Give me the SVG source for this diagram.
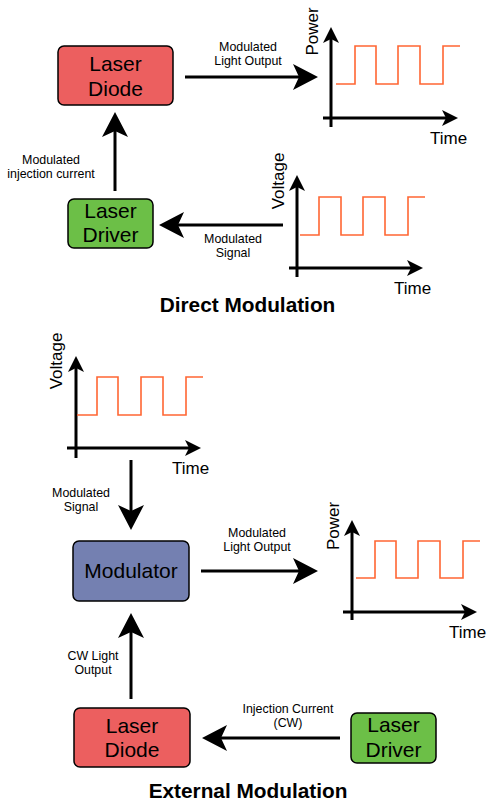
<svg xmlns="http://www.w3.org/2000/svg" width="500" height="807" viewBox="0 0 500 807">
<style>
.box{stroke:#000;stroke-width:1.5}
.bt{font-family:"Liberation Sans",Arial,sans-serif;font-size:21px;fill:#000;text-anchor:middle}
.lb{font-family:"Liberation Sans",Arial,sans-serif;font-size:12.4px;fill:#000;text-anchor:middle}
.ax{font-family:"Liberation Sans",Arial,sans-serif;font-size:17px;fill:#000}
.ttl{font-family:"Liberation Sans",Arial,sans-serif;font-size:20.8px;font-weight:bold;fill:#000;text-anchor:middle}
.con{stroke:#000;stroke-width:3;fill:none;marker-end:url(#ah)}
.axis{stroke:#000;stroke-width:3;fill:none}
.axa{marker-end:url(#axh)}
.wave{stroke:#FF6633;stroke-width:1.6;fill:none}
</style>
<defs>
<marker id="ah" markerUnits="userSpaceOnUse" markerWidth="26" markerHeight="28" viewBox="0 0 26 28" refX="6" refY="14" orient="auto">
<path d="M25,14 L0,1 L6,14 L0,27 Z" fill="#000"/>
</marker>
<marker id="axh" markerUnits="userSpaceOnUse" markerWidth="17" markerHeight="18" viewBox="0 0 17 18" refX="4" refY="9" orient="auto">
<path d="M16,9 L0,1 L4,9 L0,17 Z" fill="#000"/>
</marker>
</defs>
<rect width="500" height="807" fill="#fff"/>

<g id="connectors">
<line class="con" x1="185" y1="77" x2="299" y2="77"/>
<line class="con" x1="115" y1="191" x2="115" y2="131"/>
<line class="con" x1="283" y1="225" x2="178" y2="225"/>
<line class="con" x1="131" y1="460" x2="131" y2="511"/>
<line class="con" x1="201" y1="571" x2="299" y2="571"/>
<line class="con" x1="131" y1="699" x2="131" y2="632"/>
<line class="con" x1="340" y1="738" x2="221" y2="738"/>
</g>

<g id="conn-labels">
<text class="lb" x="248" y="51">Modulated</text>
<text class="lb" x="248" y="65">Light Output</text>
<text class="lb" x="51" y="164">Modulated</text>
<text class="lb" x="51" y="178">injection current</text>
<text class="lb" x="233" y="243">Modulated</text>
<text class="lb" x="233" y="257">Signal</text>
<text class="lb" x="81" y="497">Modulated</text>
<text class="lb" x="81" y="511">Signal</text>
<text class="lb" x="257" y="537">Modulated</text>
<text class="lb" x="257" y="551">Light Output</text>
<text class="lb" x="93" y="660">CW Light</text>
<text class="lb" x="93" y="674">Output</text>
<text class="lb" x="288" y="713">Injection Current</text>
<text class="lb" x="288" y="727">(CW)</text>
</g>

<g id="laser-diode-1">
<rect class="box" x="58" y="46" width="115" height="59" rx="6" fill="#EC5F5F"/>
<text class="bt" x="115.5" y="71">Laser</text>
<text class="bt" x="115.5" y="96">Diode</text>
</g>
<g id="laser-driver-1">
<rect class="box" x="68" y="199" width="85" height="49" rx="6" fill="#6CBF47"/>
<text class="bt" x="110.5" y="218">Laser</text>
<text class="bt" x="110.5" y="242">Driver</text>
</g>

<g id="graph-power-1">
<line class="axis axa" x1="331" y1="127" x2="331" y2="39"/>
<line class="axis axa" x1="323" y1="118" x2="446" y2="118"/>
<path class="wave" d="M336,84 H355 V46 H376 V84 H398 V46 H420 V84 H443 V46 H460"/>
<text class="ax" text-anchor="middle" transform="translate(318,31.5) rotate(-90)">Power</text>
<text class="ax" x="430" y="144">Time</text>
</g>

<g id="graph-voltage-1">
<line class="axis axa" x1="297" y1="277" x2="297" y2="187"/>
<line class="axis axa" x1="289" y1="268" x2="411" y2="268"/>
<path class="wave" d="M300,235 H319 V197 H341 V235 H363 V197 H385 V235 H408 V197 H425"/>
<text class="ax" text-anchor="middle" transform="translate(284,181) rotate(-90)">Voltage</text>
<text class="ax" x="394" y="294">Time</text>
</g>

<g id="title-direct">
<text class="ttl" x="247.5" y="312">Direct Modulation</text>
</g>

<g id="graph-voltage-2">
<line class="axis axa" x1="76" y1="458" x2="76" y2="368"/>
<line class="axis axa" x1="67" y1="448" x2="189" y2="448"/>
<path class="wave" d="M77,415 H97 V377 H118 V415 H141 V377 H163 V415 H186 V377 H203"/>
<text class="ax" text-anchor="middle" transform="translate(62,361) rotate(-90)">Voltage</text>
<text class="ax" x="172" y="474">Time</text>
</g>

<g id="modulator">
<rect class="box" x="73" y="541" width="116" height="60" rx="6" fill="#7480B1"/>
<text class="bt" x="131" y="578">Modulator</text>
</g>

<g id="graph-power-2">
<line class="axis axa" x1="352" y1="620" x2="352" y2="532"/>
<line class="axis axa" x1="343" y1="612" x2="465" y2="612"/>
<path class="wave" d="M356,578 H375 V541 H396 V578 H418 V541 H440 V578 H463 V541 H480"/>
<text class="ax" text-anchor="middle" transform="translate(339,526) rotate(-90)">Power</text>
<text class="ax" x="449" y="638">Time</text>
</g>

<g id="laser-diode-2">
<rect class="box" x="74" y="708" width="116" height="59" rx="6" fill="#EC5F5F"/>
<text class="bt" x="132" y="733">Laser</text>
<text class="bt" x="132" y="757">Diode</text>
</g>
<g id="laser-driver-2">
<rect class="box" x="351" y="713" width="85" height="50" rx="6" fill="#6CBF47"/>
<text class="bt" x="393.5" y="732">Laser</text>
<text class="bt" x="393.5" y="757">Driver</text>
</g>

<g id="title-external">
<text class="ttl" x="248" y="798">External Modulation</text>
</g>
</svg>
